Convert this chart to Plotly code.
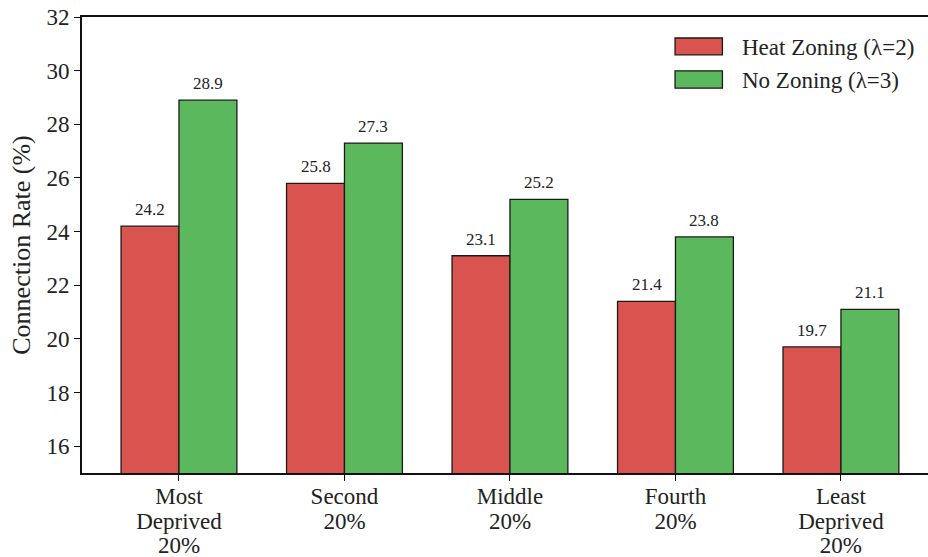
import plotly.graph_objects as go

# Connection rate by deprivation quintile under two zoning scenarios
category_lines = [["Most", "Deprived", "20%"], ["Second", "20%"], ["Middle", "20%"],
                  ["Fourth", "20%"], ["Least", "Deprived", "20%"]]
heat_zoning = [24.2, 25.8, 23.1, 21.4, 19.7]
no_zoning = [28.9, 27.3, 25.2, 23.8, 21.1]
series_names = ["Heat Zoning (λ=2)", "No Zoning (λ=3)"]
series_colors = ["#d9534f", "#5cb85c"]
y_ticks = [16, 18, 20, 22, 24, 26, 28, 30, 32]

bar_width = 0.35
idx = list(range(len(category_lines)))
font_family = "Liberation Serif, Times New Roman, serif"

# tight line spacing: base font sets the line height, spans set the glyph size
tick_text = ["<br>".join(f'<span style="font-size:23px">{w}</span>' for w in lines)
             for lines in category_lines]

fig = go.Figure()
for k, (vals, name, color) in enumerate(zip([heat_zoning, no_zoning], series_names, series_colors)):
    offset = (k - 0.5) * bar_width
    xs = [i + offset for i in idx]
    fig.add_trace(go.Bar(
        x=xs, y=vals, width=bar_width, name=name,
        marker=dict(color=color, line=dict(color="#1a1a1a", width=1.3)),
        showlegend=False,
    ))
    for x, v in zip(xs, vals):
        fig.add_annotation(x=x, y=v, text=f"{v:.1f}", showarrow=False,
                           yanchor="bottom", yshift=5,
                           font=dict(family=font_family, size=17, color="#222"))

# legend drawn as wide patches with labels, upper right
legend_rows = [(0.917, 0.954, 0.934), (0.844, 0.882, 0.860)]
for (y0, y1, yt), name, color in zip(legend_rows, series_names, series_colors):
    fig.add_shape(type="rect", xref="paper", yref="paper",
                  x0=0.701, x1=0.757, y0=y0, y1=y1,
                  fillcolor=color, line=dict(color="#1a1a1a", width=1.3))
    fig.add_annotation(xref="paper", yref="paper", x=0.778, y=yt, text=name,
                       showarrow=False, xanchor="left", yanchor="middle",
                       font=dict(family=font_family, size=23, color="#222"))

fig.update_layout(
    width=928, height=557,
    margin=dict(l=82, r=0, t=17, b=84),
    plot_bgcolor="white", paper_bgcolor="white",
    font=dict(family=font_family, color="#222"),
    xaxis=dict(
        range=[-0.586, 4.526], tickmode="array", tickvals=idx, ticktext=tick_text,
        showline=True, linecolor="#111", linewidth=2, mirror=True,
        ticks="outside", ticklen=6, tickwidth=1.3, tickcolor="#111",
        showgrid=False, zeroline=False, tickfont=dict(size=19), automargin=False,
    ),
    yaxis=dict(
        range=[15, 32], tickmode="array", tickvals=y_ticks,
        showline=True, linecolor="#111", linewidth=2,
        ticks="outside", ticklen=6, tickwidth=1.3, tickcolor="#111",
        showgrid=False, zeroline=False, tickfont=dict(size=23), automargin=False,
        title=dict(text="Connection Rate (%)", font=dict(size=26), standoff=8),
    ),
)

fig.write_html("out.html")
